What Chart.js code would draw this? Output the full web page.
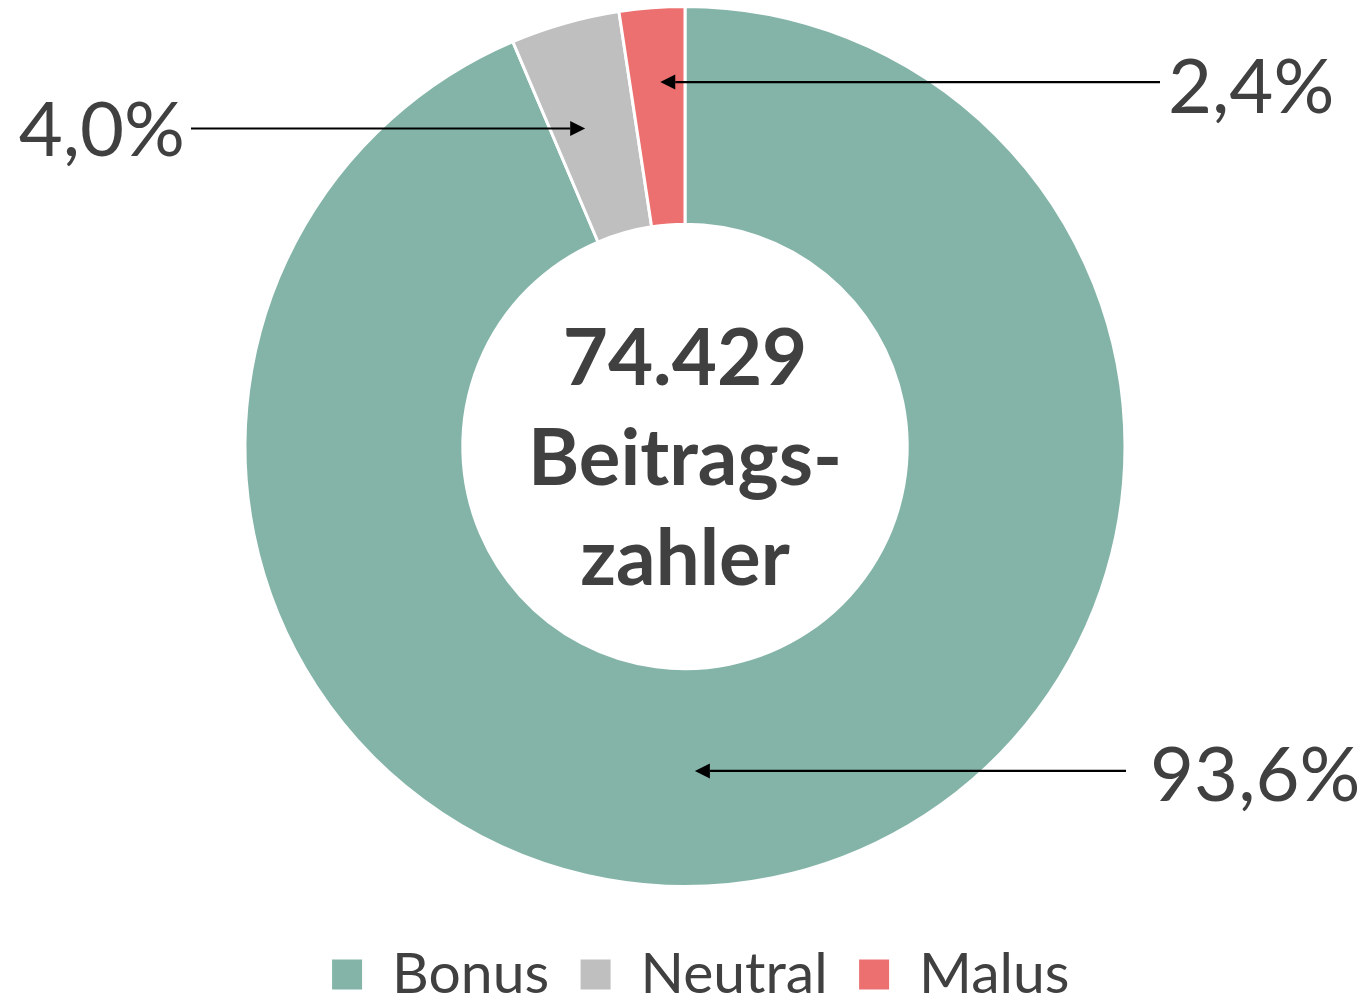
<!DOCTYPE html>
<html>
<head>
<meta charset="utf-8">
<script src="https://cdn.jsdelivr.net/npm/chart.js@4.4.1/dist/chart.umd.min.js"></script>
<style>
  html, body { margin: 0; padding: 0; background: #ffffff; overflow: hidden; }
  #wrap { width: 1370px; height: 998px; position: relative; }
</style>
</head>
<body>
<div id="wrap"><canvas id="c" width="1370" height="998"></canvas></div>
<script>
const categories = ['Bonus', 'Neutral', 'Malus'];
const shares = [93.6, 4.0, 2.4];
const valueLabels = ['93,6%', '4,0%', '2,4%'];
const centerLines = ['74.429', 'Beitrags-', 'zahler'];
const colors = ['#84B4A8', '#BFBFBF', '#EC7070'];

const textColor = '#404040';
const fontFamily = 'Lato, "Open Sans", sans-serif';

// annotation layout: which slice, where along the arc (0..1), how far into the ring (0..1),
// where the label text sits and on which side
const annotations = [
  { index: 1, along: 0.39, radial: 0.51, side: 'left',  textX: 185, gap: 6,  dy: 27 },
  { index: 2, along: 0.55, radial: 0.657, side: 'right', textX: 1168, gap: 8, dy: 31 },
  { index: 0, along: 0.529, radial: 0.47, side: 'right', textX: 1150, gap: 24, dy: 30 }
];

const calloutPlugin = {
  id: 'callouts',
  afterLayout(chart) {
    // legend in the reference sits slightly right of the ring's centre
    const lg = chart.legend;
    if (lg) { lg.left += 15; lg.right += 15; }
  },
  afterDatasetsDraw(chart) {
    const ctx = chart.ctx;
    const meta = chart.getDatasetMeta(0);
    ctx.save();
    annotations.forEach(a => {
      const arc = meta.data[a.index];
      const p = arc.getProps(['x', 'y', 'startAngle', 'endAngle', 'innerRadius', 'outerRadius'], true);
      const ang = p.startAngle + (p.endAngle - p.startAngle) * a.along;
      const r = p.innerRadius + (p.outerRadius - p.innerRadius) * a.radial;
      const tipX = p.x + Math.cos(ang) * r;
      const tipY = p.y + Math.sin(ang) * r;
      const tailX = a.side === 'left' ? a.textX + a.gap : a.textX - a.gap;
      const dir = tipX > tailX ? 1 : -1;
      const headLen = 15, headHalf = 7.5;
      ctx.strokeStyle = '#000';
      ctx.fillStyle = '#000';
      ctx.lineWidth = 2.2;
      ctx.beginPath();
      ctx.moveTo(tailX, tipY);
      ctx.lineTo(tipX - dir * headLen, tipY);
      ctx.stroke();
      ctx.beginPath();
      ctx.moveTo(tipX, tipY);
      ctx.lineTo(tipX - dir * headLen, tipY - headHalf);
      ctx.lineTo(tipX - dir * headLen, tipY + headHalf);
      ctx.closePath();
      ctx.fill();
      ctx.fillStyle = textColor;
      ctx.font = '76px ' + fontFamily;
      ctx.textBaseline = 'alphabetic';
      ctx.textAlign = a.side === 'left' ? 'right' : 'left';
      ctx.fillText(valueLabels[a.index], a.textX, tipY + a.dy);
    });
    // center text
    const arc0 = meta.data[0];
    ctx.fillStyle = textColor;
    ctx.font = 'bold 78px ' + fontFamily;
    ctx.textAlign = 'center';
    ctx.textBaseline = 'alphabetic';
    const lh = 100;
    centerLines.forEach((t, i) => {
      ctx.fillText(t, arc0.x, arc0.y - 62 + i * lh);
    });
    ctx.restore();
  }
};

new Chart(document.getElementById('c'), {
  type: 'doughnut',
  data: {
    labels: categories,
    datasets: [{
      data: shares,
      backgroundColor: colors,
      borderColor: '#ffffff',
      borderWidth: 3
    }]
  },
  options: {
    responsive: false,
    animation: false,
    cutout: '50.5%',
    layout: { padding: { top: 5, bottom: -15, left: 0, right: 0 } },
    plugins: {
      tooltip: { enabled: false },
      legend: {
        position: 'bottom',
        title: { display: true, text: '', font: { size: 10, lineHeight: 1 }, padding: 9 },
        labels: {
          boxWidth: 33,
          boxHeight: 33,
          padding: 30,
          color: textColor,
          font: { family: fontFamily, size: 57 }
        }
      }
    }
  },
  plugins: [calloutPlugin]
});
</script>
</body>
</html>
